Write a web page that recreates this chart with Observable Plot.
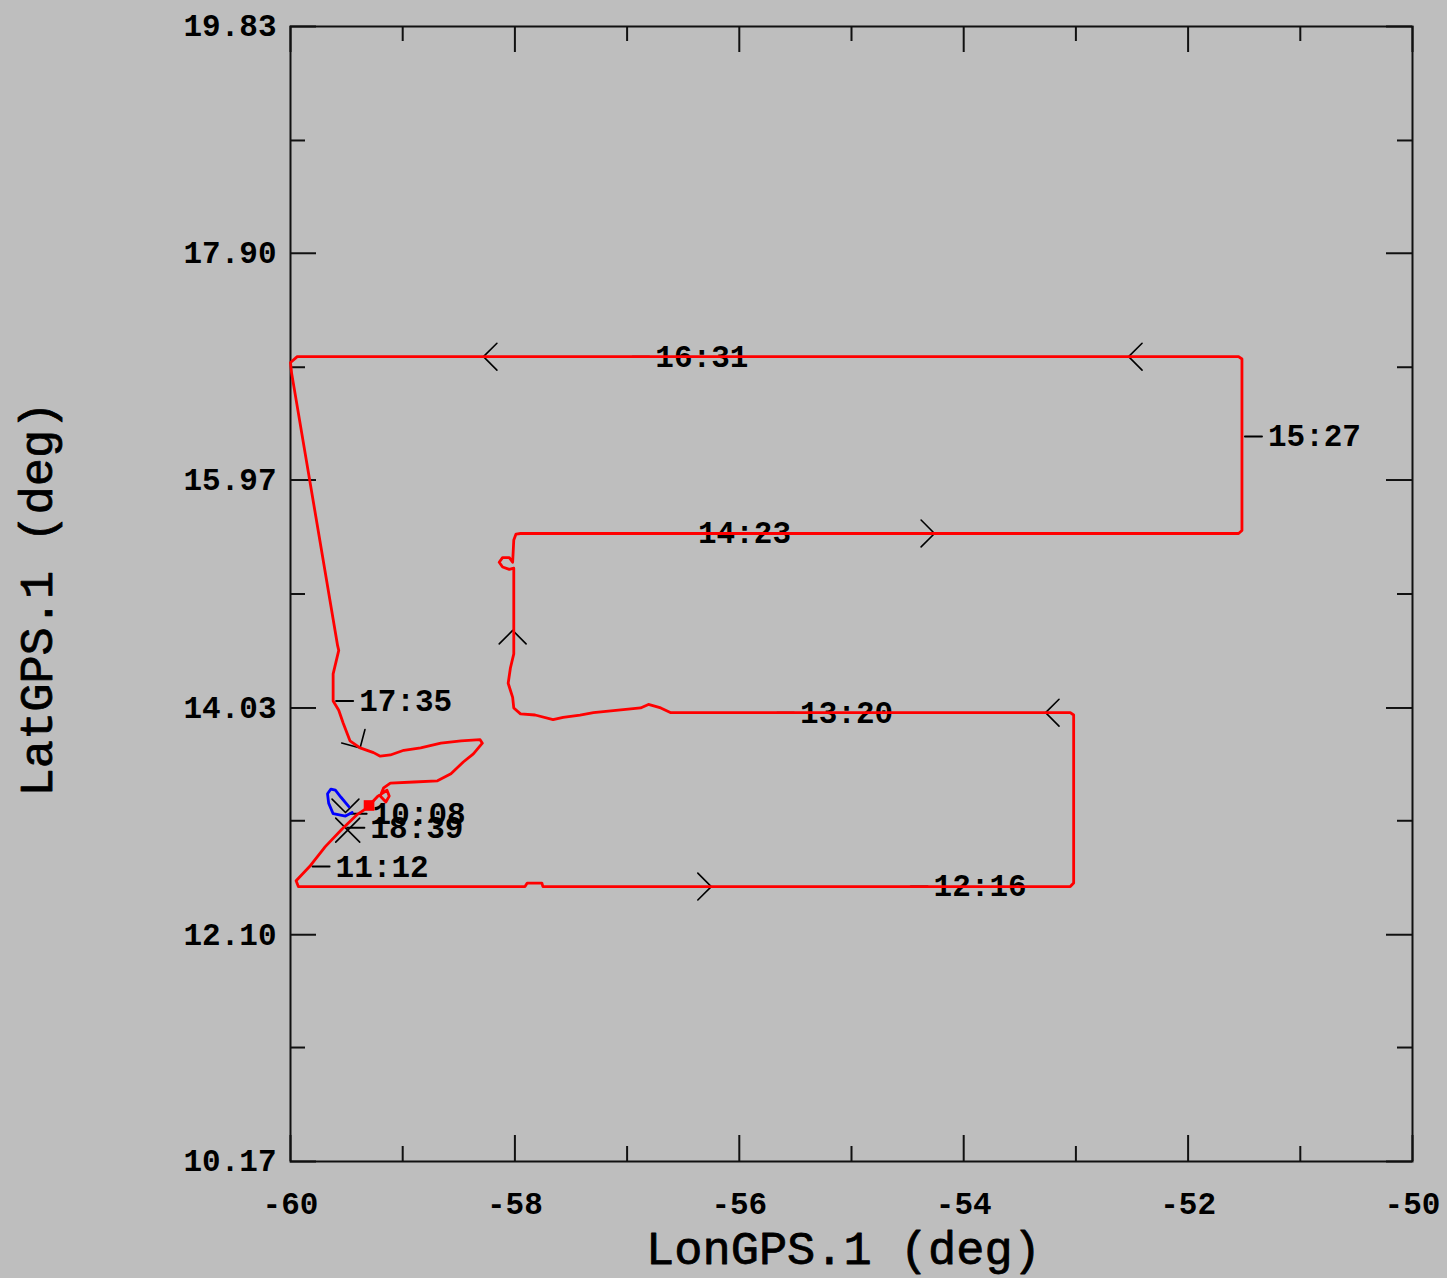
<!DOCTYPE html>
<html><head><meta charset="utf-8">
<script src="https://cdn.jsdelivr.net/npm/d3@7"></script>
<script src="https://cdn.jsdelivr.net/npm/@observablehq/plot@0.6"></script>
<style>
html,body{margin:0;padding:0;background:#bebebe;}
#chart svg{display:block;}
</style></head><body><div id="chart"></div>
<script>
// ---- flight track (red) ----
const trackLon = [-59.30,-59.41,-59.54,-59.69,-59.83,-59.95,-59.93,-57.91,-57.89,-57.76,-57.75,-53.05,-53.02,-53.02,-53.05,
  -56.61,-56.70,-56.81,-56.88,-56.99,-57.30,-57.42,-57.57,-57.66,-57.82,-57.95,-58.01,-58.02,-58.06,-58.04,-58.01,-58.01,
  -58.05,-58.11,-58.14,-58.11,-58.05,-58.02,-58.01,-57.99,-57.95,-51.55,-51.52,-51.52,-51.55,-59.94,-60.00,-59.99,-59.58,
  -59.57,-59.62,-59.62,-59.57,-59.53,-59.47,-59.38,-59.26,-59.20,-59.11,-58.99,-58.84,-58.66,-58.48,-58.31,-58.29,-58.37,
  -58.46,-58.57,-58.69,-58.90,-59.11,-59.17,-59.20,-59.15,-59.12,-59.14,-59.22,-59.30];
const trackLat = [13.19,13.12,13.00,12.85,12.68,12.56,12.51,12.51,12.54,12.54,12.51,12.51,12.54,13.97,13.99,
  13.99,14.03,14.06,14.03,14.02,13.99,13.97,13.95,13.93,13.97,13.98,14.03,14.12,14.24,14.37,14.49,15.22,
  15.21,15.23,15.27,15.31,15.31,15.27,15.46,15.51,15.515,15.515,15.54,17.00,17.02,17.02,16.97,16.88,14.56,
  14.52,14.32,14.09,14.01,13.90,13.75,13.69,13.65,13.62,13.63,13.67,13.69,13.73,13.75,13.76,13.73,13.64,
  13.57,13.47,13.41,13.40,13.39,13.35,13.28,13.23,13.28,13.33,13.28,13.20];
// ---- second segment (blue) ----
const blueLon = [-59.45,-59.51,-59.62,-59.66,-59.67,-59.64,-59.60,-59.55,-59.48];
const blueLat = [13.14,13.11,13.13,13.22,13.30,13.34,13.33,13.27,13.19];
// ---- time labels ----
const labelTimes = ["10:08","11:12","12:16","13:20","14:23","15:27","16:31","17:35","18:39"];
const labelLon = [-59.50,-59.83,-54.50,-55.69,-56.60,-51.52,-56.98,-59.62,-59.52];
const labelLat = [13.13,12.68,12.51,13.99,15.515,16.34,17.02,14.09,13.01];
// ---- direction arrows (degrees clockwise from north) ----
const arrowLon = [-56.25,-53.27,-58.02,-54.26,-52.53,-58.28,-59.38,-59.51];
const arrowLat = [12.51,13.99,14.69,15.515,17.02,17.02,13.69,13.14];
const arrowDir = [90,270,0,90,270,270,150,180];
// ---- start / end markers ----
const startLon = [-59.49], startLat = [12.99];
const endLon = [-59.30], endLat = [13.20];
// ---- axes ----
const xMajor = [-60,-58,-56,-54,-52,-50];
const xMinor = [-59,-57,-55,-53,-51];
const yTickLabels = ["10.17","12.10","14.03","15.97","17.90","19.83"];
const yMinor = [11.14,13.07,15.00,16.93,18.86];
const xTitle = "LonGPS.1 (deg)";
const yTitle = "LatGPS.1 (deg)";

const W = 1447, H = 1278, ML = 290, MR = 35, MT = 26, MB = 117;
const xDom = [-60,-50], yDom = [10.17,19.83];
const xPerPx = (xDom[1]-xDom[0])/(W-ML-MR);
const yPerPx = (yDom[1]-yDom[0])/(H-MT-MB);
const yMajor = yTickLabels.map(Number);

const track = trackLon.map((d,i)=>({lon:d, lat:trackLat[i]}));
const blue = blueLon.map((d,i)=>({lon:d, lat:blueLat[i]}));
const labels = labelTimes.map((t,i)=>({t, lon:labelLon[i], lat:labelLat[i]}));
const arrows = arrowLon.map((d,i)=>({lon:d, lat:arrowLat[i], dir:arrowDir[i]}));

const chevron = {draw(ctx, l){ const a = l*0.707; ctx.moveTo(-a, a); ctx.lineTo(0, 0); ctx.lineTo(a, a); }};
const tickShape = {draw(ctx, l){ ctx.moveTo(0, -3); ctx.lineTo(0, -3 - l); }};
const cross = {draw(ctx, l){ ctx.moveTo(-l,-l); ctx.lineTo(l,l); ctx.moveTo(-l,l); ctx.lineTo(l,-l); }};

const font = "Liberation Mono, DejaVu Sans Mono, monospace";
const MAJ = 26, MIN = 15;

const chart = Plot.plot({
  width: W, height: H,
  marginLeft: ML, marginRight: MR, marginTop: MT, marginBottom: MB,
  x: {domain: xDom, axis: null},
  y: {domain: yDom, axis: null},
  style: {background: "#bebebe", fontFamily: font, fontWeight: "bold", color: "black"},
  marks: [
    // inward ticks on all four sides
    Plot.ruleY(yMajor, {y: d=>d, x1: ()=>xDom[0], x2: ()=>xDom[0] + MAJ*xPerPx, stroke: "#111", strokeWidth: 2}),
    Plot.ruleY(yMinor, {y: d=>d, x1: ()=>xDom[0], x2: ()=>xDom[0] + MIN*xPerPx, stroke: "#111", strokeWidth: 2}),
    Plot.ruleY(yMajor, {y: d=>d, x1: ()=>xDom[1], x2: ()=>xDom[1] - MAJ*xPerPx, stroke: "#111", strokeWidth: 2}),
    Plot.ruleY(yMinor, {y: d=>d, x1: ()=>xDom[1], x2: ()=>xDom[1] - MIN*xPerPx, stroke: "#111", strokeWidth: 2}),
    Plot.ruleX(xMajor, {x: d=>d, y1: ()=>yDom[0], y2: ()=>yDom[0] + MAJ*yPerPx, stroke: "#111", strokeWidth: 2}),
    Plot.ruleX(xMinor, {x: d=>d, y1: ()=>yDom[0], y2: ()=>yDom[0] + MIN*yPerPx, stroke: "#111", strokeWidth: 2}),
    Plot.ruleX(xMajor, {x: d=>d, y1: ()=>yDom[1], y2: ()=>yDom[1] - MAJ*yPerPx, stroke: "#111", strokeWidth: 2}),
    Plot.ruleX(xMinor, {x: d=>d, y1: ()=>yDom[1], y2: ()=>yDom[1] - MIN*yPerPx, stroke: "#111", strokeWidth: 2}),
    Plot.frame({stroke: "#111", strokeWidth: 2}),
    // tick labels
    Plot.axisX(xMajor, {anchor: "bottom", tickSize: 0, tickPadding: 30, tickFormat: d => String(d), fontSize: 31, fontWeight: "bold", label: null}),
    Plot.axisY(yMajor, {anchor: "left", tickSize: 0, tickPadding: 14, tickFormat: (d,i) => yTickLabels[yMajor.indexOf(d)], fontSize: 31, fontWeight: "bold", label: null}),
    // axis titles
    Plot.text([xTitle], {frameAnchor: "bottom", textAnchor: "middle", lineAnchor: "middle", dx: -8, dy: 87, fontSize: 47, fontWeight: "normal", stroke: "black", strokeWidth: 0.8, fill: "black"}),
    Plot.text([yTitle], {frameAnchor: "left", textAnchor: "middle", lineAnchor: "middle", dx: -254, dy: 5, rotate: -90, fontSize: 47, fontWeight: "normal", stroke: "black", strokeWidth: 0.8, fill: "black"}),
    // label ticks, arrows, markers
    Plot.vector(labels, {x: "lon", y: "lat", rotate: 90, length: 17, anchor: "start", shape: tickShape, stroke: "black", strokeWidth: 2}),
    Plot.vector(arrows, {x: "lon", y: "lat", rotate: "dir", length: 19, anchor: "start", shape: chevron, stroke: "black", strokeWidth: 1.6}),
    Plot.vector(startLon.map((d,i)=>({lon:d, lat:startLat[i]})), {x: "lon", y: "lat", length: 12, anchor: "start", shape: cross, stroke: "black", strokeWidth: 1.6}),
    Plot.text(labels, {x: "lon", y: "lat", text: "t", dx: 26, textAnchor: "start", fontSize: 31, fontWeight: "bold", fill: "black"}),
    // tracks
    Plot.line(track, {x: "lon", y: "lat", stroke: "#ff0000", strokeWidth: 2.8, curve: "linear"}),
    Plot.line(blue, {x: "lon", y: "lat", stroke: "#0000ff", strokeWidth: 2.8, curve: "linear"}),
    Plot.dot(endLon.map((d,i)=>({lon:d, lat:endLat[i]})), {x: "lon", y: "lat", symbol: "square", r: 6, fill: "#ff0000", stroke: "none"})
  ]
});
document.getElementById("chart").appendChild(chart);
</script>
</body></html>
